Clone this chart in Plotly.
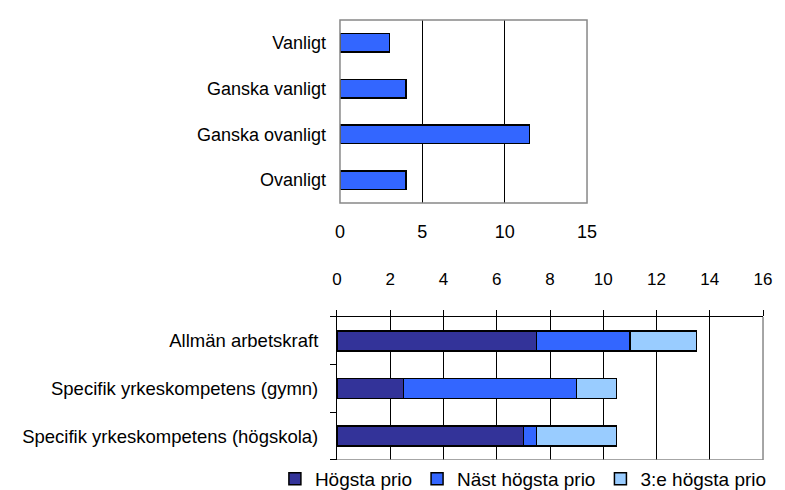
import plotly.graph_objects as go

# --- Data -------------------------------------------------------------------
freq_labels = ["Vanligt", "Ganska vanligt", "Ganska ovanligt", "Ovanligt"]
freq_values = [3, 4, 11.5, 4]

prio_labels = ["Allmän arbetskraft", "Specifik yrkeskompetens (gymn)",
               "Specifik yrkeskompetens (högskola)"]
hogsta = [7.5, 2.5, 7]
nast_hogsta = [3.5, 6.5, 0.5]
tredje_hogsta = [2.5, 1.5, 3]

COLORS = {
    "mork": "#333399",
    "bla": "#3366FF",
    "ljus": "#99CCFF",
    "ram": "#888888",
}
FONT = "Arial, Liberation Sans, sans-serif"
LINE = dict(color="black", width=1.5)

fig = go.Figure()

# --- Top chart --------------------------------------------------------------
fig.add_trace(go.Bar(
    x=freq_values, y=freq_labels, orientation="h", width=0.4,
    marker=dict(color=COLORS["bla"], line=LINE),
    xaxis="x", yaxis="y", showlegend=False,
))

# --- Bottom chart (stacked) -------------------------------------------------
for name, vals, col in [("Högsta prio", hogsta, COLORS["mork"]),
                        ("Näst högsta prio", nast_hogsta, COLORS["bla"]),
                        ("3:e högsta prio", tredje_hogsta, COLORS["ljus"])]:
    fig.add_trace(go.Bar(
        x=vals, y=prio_labels, orientation="h", name=name, width=0.42,
        marker=dict(color=col, line=LINE),
        xaxis="x2", yaxis="y2",
    ))

fig.update_layout(
    width=785, height=490,
    margin=dict(l=0, r=0, t=0, b=0, autoexpand=False),
    paper_bgcolor="white", plot_bgcolor="white",
    font=dict(family=FONT, size=18, color="black"),
    barmode="stack",
    xaxis=dict(
        domain=[0.4229, 0.7376], anchor="y",
        range=[0, 15], tickvals=[0, 5, 10, 15],
        showgrid=True, gridcolor="black", gridwidth=1,
        zeroline=False, showline=False, ticks="",
        ticklabelstandoff=16, tickfont=dict(size=18),
    ),
    yaxis=dict(
        domain=[0.602, 0.9755], anchor="x",
        type="category", categoryorder="array",
        categoryarray=freq_labels[::-1],
        showgrid=False, zeroline=False, showline=False, ticks="",
        ticklabelstandoff=13, tickfont=dict(size=18),
    ),
    xaxis2=dict(
        domain=[0.4191, 0.9618], anchor="y2", side="top",
        range=[0, 16], dtick=2,
        showgrid=True, gridcolor="black", gridwidth=1,
        zeroline=False, showline=True, linecolor="black", linewidth=1,
        ticks="outside", ticklen=6, tickcolor="black",
        ticklabelstandoff=18, tickfont=dict(size=17),
    ),
    yaxis2=dict(
        domain=[0.0776, 0.3694], anchor="x2",
        type="category", categoryorder="array",
        categoryarray=prio_labels[::-1],
        showgrid=False, zeroline=False, showline=True,
        linecolor="black", linewidth=1,
        ticks="outside", ticklen=6, tickcolor="black",
        tickson="boundaries", ticklabelstandoff=14,
        tickfont=dict(size=18.5),
    ),
    legend=dict(
        orientation="h", x=0.34, y=0.0, xanchor="left", yanchor="bottom",
        font=dict(size=19), traceorder="normal",
        itemwidth=30, tracegroupgap=0,
    ),
    shapes=[
        # grey frame round the top chart
        dict(type="rect", xref="x domain", yref="y domain",
             x0=0, x1=1, y0=0, y1=1,
             line=dict(color=COLORS["ram"], width=1.5), layer="above"),
        # grey right and bottom edges of the bottom chart
        dict(type="line", xref="x2 domain", yref="y2 domain",
             x0=1, x1=1, y0=0, y1=1,
             line=dict(color=COLORS["ram"], width=1.5), layer="above"),
        dict(type="line", xref="x2 domain", yref="y2 domain",
             x0=0, x1=1, y0=0, y1=0,
             line=dict(color=COLORS["ram"], width=1.5), layer="above"),
    ],
)

fig.write_html("out.html")
